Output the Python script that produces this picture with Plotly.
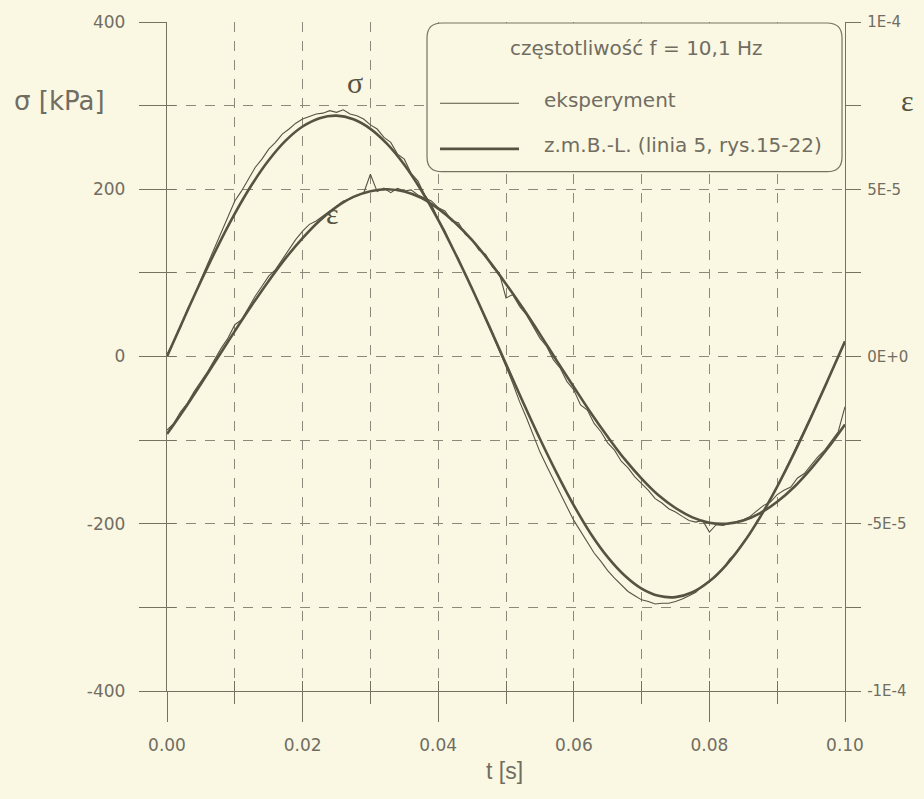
import plotly.graph_objects as go

# time axis [s]
t_model = [i * 0.0025 for i in range(41)]
t_exp = [i * 0.001 for i in range(101)]

# stress sigma [kPa] - model (z.m.B.-L.)
sigma_model = [0.0, 45.5, 89.9, 132.0, 170.8, 205.3, 234.6, 258.1, 275.0, 285.0,
               288.0, 283.6, 272.2, 253.9, 229.3, 198.8, 163.4, 123.5, 81.1, 36.6,
               -9.0, -54.4, -98.3, -139.7, -178.0, -211.9, -239.9, -261.9, -277.6, -286.2,
               -287.7, -281.9, -268.8, -249.1, -223.1, -191.7, -155.5, -115.5, -72.5, -27.6,
               18.1]

# stress sigma [kPa] - experiment
sigma_exp = [2, 19, 35, 56, 72, 92, 111, 131, 150, 168,
             186, 198, 212, 226, 236, 248, 256, 266, 272, 279,
             284, 287, 290, 291, 294, 292, 295, 290, 288, 284,
             277, 272, 262, 256, 242, 236, 219, 210, 193, 182,
             164, 150, 131, 117, 98, 82, 62, 44, 26, 8,
             -12, -32, -54, -73, -94, -114, -131, -148, -165, -180,
             -196, -209, -222, -235, -245, -256, -265, -273, -281, -286,
             -291, -293, -296, -295, -295, -293, -290, -286, -282, -274,
             -268, -263, -254, -242, -235, -222, -212, -197, -186, -170,
             -156, -139, -124, -106, -90, -72, -55, -37, -19, 0,
             17]

# strain epsilon [1e-6] - model
eps_model_micro = [-23.2, -15.9, -8.2, -0.3, 7.6, 15.3, 22.6, 29.4, 35.4, 40.6,
                   44.7, 47.7, 49.4, 50.0, 49.3, 47.4, 44.2, 40.0, 34.8, 28.6,
                   21.7, 14.4, 6.7, -1.3, -9.1, -16.8, -24.0, -30.7, -36.5, -41.5,
                   -45.3, -48.1, -49.7, -50.0, -49.0, -46.8, -43.4, -39.0, -33.5, -27.3,
                   -20.3]

# strain epsilon [1e-6] - experiment
eps_exp_micro = [-22.0, -20.0, -16.5, -14.0, -10.5, -7.5, -4.5, -1.0, 2.5, 5.5,
                 9.5, 11.0, 14.5, 18.0, 21.0, 24.0, 26.0, 29.0, 32.0, 35.0,
                 37.5, 39.5, 40.5, 42.0, 43.3, 45.0, 46.5, 47.0, 48.3, 48.8,
                 54.5, 49.3, 50.3, 49.0, 50.3, 49.5, 49.8, 48.3, 47.5, 46.5,
                 44.5, 43.5, 40.5, 40.0, 36.5, 35.0, 31.8, 30.5, 26.8, 25.0,
                 17.5, 18.5, 15.0, 12.5, 9.0, 5.5, 3.0, -1.0, -3.5, -7.5,
                 -10.0, -14.5, -16.0, -20.0, -22.5, -25.8, -28.0, -31.3, -33.3, -36.0,
                 -38.0, -40.0, -42.5, -43.8, -45.5, -46.5, -47.8, -49.0, -49.5, -49.0,
                 -52.5, -50.3, -50.5, -50.0, -49.5, -48.8, -47.8, -46.0, -44.5, -43.5,
                 -41.3, -40.0, -39.0, -36.3, -35.0, -32.5, -30.0, -28.0, -25.3, -22.5,
                 -15.0]

eps_model = [v * 1e-6 for v in eps_model_micro]
eps_exp = [v * 1e-6 for v in eps_exp_micro]

# axis ticks
x_major = [0.0, 0.02, 0.04, 0.06, 0.08, 0.10]
x_major_labels = ["0.00", "0.02", "0.04", "0.06", "0.08", "0.10"]
x_minor = [0.01, 0.03, 0.05, 0.07, 0.09]
x_all = [round(i * 0.01, 2) for i in range(11)]
sigma_ticks = [-400, -300, -200, -100, 0, 100, 200, 300, 400]
sigma_labels = ["-400", "", "-200", "", "0", "", "200", "", "400"]
sigma_grid = [-300, -200, -100, 0, 100, 200, 300]
eps_ticks = [-1e-4, -7.5e-5, -5e-5, -2.5e-5, 0, 2.5e-5, 5e-5, 7.5e-5, 1e-4]
eps_labels = ["-1E-4", "", "-5E-5", "", "0E+0", "", "5E-5", "", "1E-4"]

BG = "#FAF8E3"
INK = "#575342"
AXIS = "#77725F"
GRID = "#8C887A"
TXT = "#716D62"
SANS = "DejaVu Sans, Verdana, sans-serif"
NARROW = "Liberation Sans, Arial, sans-serif"
SERIF = "Liberation Serif, Times New Roman, serif"
DASH = "10px,9px"

fig = go.Figure()

fig.add_trace(go.Scatter(x=t_exp, y=sigma_exp, mode="lines",
                         line=dict(color=INK, width=1.1), showlegend=False))
fig.add_trace(go.Scatter(x=t_model, y=sigma_model, mode="lines",
                         line=dict(color=INK, width=2.6, shape="spline"), showlegend=False))
fig.add_trace(go.Scatter(x=t_exp, y=eps_exp, mode="lines", yaxis="y2",
                         line=dict(color=INK, width=1.1), showlegend=False))
fig.add_trace(go.Scatter(x=t_model, y=eps_model, mode="lines", yaxis="y2",
                         line=dict(color=INK, width=2.6, shape="spline"), showlegend=False))
# carrier for the grid / inner tick axes
fig.add_trace(go.Scatter(x=[0.05], y=[0], xaxis="x2", yaxis="y3", mode="markers",
                         marker=dict(opacity=0), hoverinfo="skip", showlegend=False))

tick_font = dict(family=SANS, size=17, color=TXT)

fig.update_layout(
    width=924, height=799,
    margin=dict(l=167, r=79, t=16, b=108),
    paper_bgcolor=BG, plot_bgcolor=BG,
    xaxis=dict(range=[0, 0.1], tickvals=x_major, ticktext=x_major_labels,
               ticks="outside", ticklen=30, tickcolor=AXIS, tickwidth=1,
               showline=True, linecolor=AXIS, linewidth=1.3,
               showgrid=True, gridcolor=GRID, griddash=DASH, gridwidth=1,
               zeroline=False, tickfont=tick_font, ticklabelstandoff=8,
               minor=dict(tickvals=x_minor, ticks="outside", ticklen=12,
                          tickcolor=AXIS, showgrid=True, gridcolor=GRID,
                          griddash=DASH, gridwidth=1)),
    xaxis2=dict(range=[0, 0.1], overlaying="x", tickvals=x_all, showticklabels=False,
                ticks="inside", ticklen=10, tickcolor=AXIS, showgrid=False,
                showline=False, zeroline=False),
    yaxis=dict(range=[-400, 400], tickvals=sigma_ticks, ticktext=sigma_labels,
               ticks="outside", ticklen=27, tickcolor=AXIS, tickwidth=1,
               showline=True, linecolor=AXIS, linewidth=1.3,
               showgrid=False, zeroline=False, tickfont=tick_font,
               ticklabelstandoff=10),
    yaxis2=dict(range=[-1e-4, 1e-4], overlaying="y", side="right",
                tickvals=eps_ticks, ticktext=eps_labels,
                ticks="outside", ticklen=15, tickcolor=AXIS, tickwidth=1,
                showline=True, linecolor=AXIS, linewidth=1.3,
                showgrid=False, zeroline=False,
                tickfont=dict(family=SANS, size=15, color=TXT), ticklabelstandoff=3),
    yaxis3=dict(range=[-400, 400], overlaying="y", tickvals=sigma_ticks,
                showticklabels=False, ticks="inside", ticklen=9, tickcolor=AXIS,
                showgrid=False, showline=False, zeroline=False),
    yaxis4=dict(range=[-400, 400], overlaying="y", tickvals=sigma_grid,
                showticklabels=False, ticks="", showgrid=True, gridcolor=GRID,
                griddash=DASH, gridwidth=1, showline=False, zeroline=False),
)
fig.add_trace(go.Scatter(x=[0.05], y=[0], xaxis="x2", yaxis="y4", mode="markers",
                         marker=dict(opacity=0), hoverinfo="skip", showlegend=False))

# legend box with rounded corners (paper coordinates)
x0, x1, y0, y1 = 0.3835, 0.9956, 0.7763, 0.9985
rx, ry = 0.022, 0.022
path = (f"M {x0 + rx},{y1} L {x1 - rx},{y1} Q {x1},{y1} {x1},{y1 - ry} "
        f"L {x1},{y0 + ry} Q {x1},{y0} {x1 - rx},{y0} L {x0 + rx},{y0} "
        f"Q {x0},{y0} {x0},{y0 + ry} L {x0},{y1 - ry} Q {x0},{y1} {x0 + rx},{y1} Z")
fig.add_shape(type="path", path=path, xref="paper", yref="paper",
              line=dict(color=AXIS, width=1.2), fillcolor=BG, layer="above")
fig.add_shape(type="line", xref="paper", yref="paper", x0=0.4027, x1=0.5192,
              y0=0.8785, y1=0.8785, line=dict(color=INK, width=1.1), layer="above")
fig.add_shape(type="line", xref="paper", yref="paper", x0=0.4027, x1=0.5192,
              y0=0.8104, y1=0.8104, line=dict(color=INK, width=2.6), layer="above")

annos = [
    dict(x=0.693, y=0.961, text="częstotliwość f = 10,1 Hz", xanchor="center",
         font=dict(family=SANS, size=20, color=TXT)),
    dict(x=0.5531, y=0.884, text="eksperyment", xanchor="left",
         font=dict(family=SANS, size=20, color=TXT)),
    dict(x=0.5531, y=0.8164, text="z.m.B.-L. (linia 5, rys.15-22)", xanchor="left",
         font=dict(family=SANS, size=20, color=TXT)),
    dict(x=-0.159, y=0.882, text="σ [kPa]", xanchor="center",
         font=dict(family=SANS, size=26, color=TXT)),
    dict(x=0.2773, y=0.909, text="σ", xanchor="center",
         font=dict(family=SERIF, size=30, color=INK)),
    dict(x=0.2448, y=0.714, text="ε", xanchor="center",
         font=dict(family=SERIF, size=30, color=INK)),
    dict(x=1.0929, y=0.882, text="ε", xanchor="center",
         font=dict(family=SERIF, size=30, color=INK)),
    dict(x=0.4985, y=-0.12, text="t [s]", xanchor="center",
         font=dict(family=NARROW, size=23, color=TXT)),
]
for a in annos:
    fig.add_annotation(xref="paper", yref="paper", showarrow=False, yanchor="middle", **a)

fig.write_html("out.html")
